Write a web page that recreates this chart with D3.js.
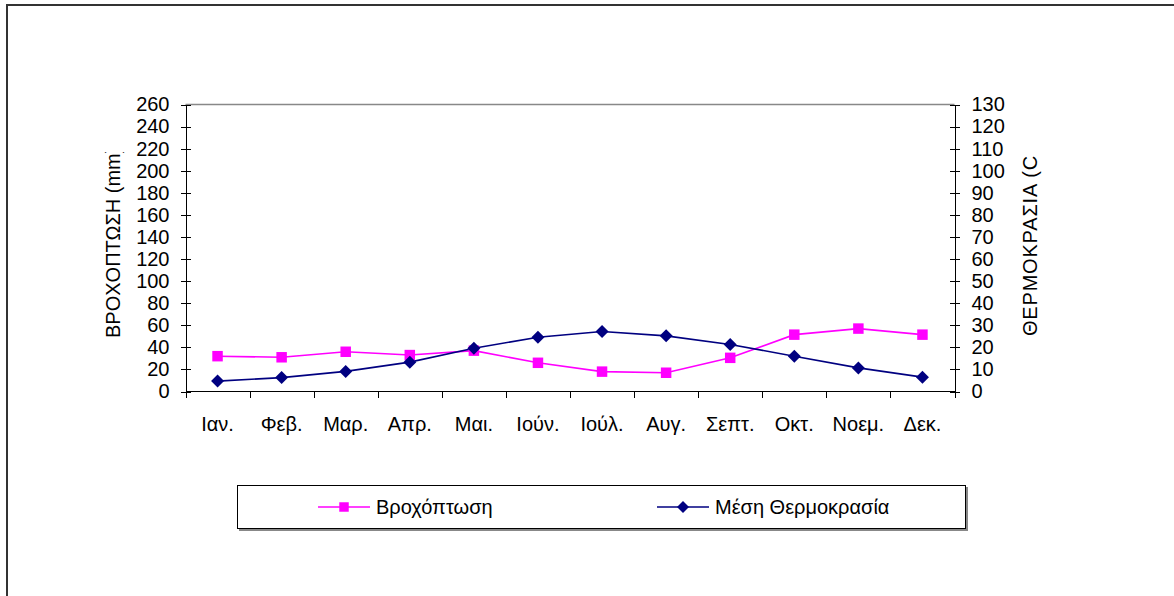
<html lang="el">
<head>
<meta charset="utf-8">
<title>Βροχόπτωση - Θερμοκρασία</title>
<style>
  body { margin: 0; background: white; font-family: "Liberation Sans", Arial, sans-serif; }
  text { font-family: "Liberation Sans", Arial, sans-serif; fill: #000; }
  .axis path, .axis line { stroke: #000; shape-rendering: crispEdges; }
</style>
</head>
<body>
<div id="chart"></div>
<script src="https://d3js.org/d3.v7.min.js"></script>
<script>
// data
var months = ["Ιαν.", "Φεβ.", "Μαρ.", "Απρ.", "Μαι.", "Ιούν.", "Ιούλ.", "Αυγ.", "Σεπτ.", "Οκτ.", "Νοεμ.", "Δεκ."];
var rain = [32, 31, 36, 33, 37, 26, 18, 17, 30.5, 51.5, 57, 51.5];
var temp = [4.7, 6.3, 9.1, 13.3, 19.6, 24.6, 27.2, 25.2, 21.3, 16, 10.7, 6.5];
var leftTicks = d3.range(0, 261, 20);
var rightTicks = d3.range(0, 131, 10);
var seriesNames = ["Βροχόπτωση", "Μέση Θερμοκρασία"];

var width = 1174, height = 596;
var plotL = 185.5, plotR = 954.5, plotT = 104.5, plotB = 391.5;
var fs = "20px";

var svg = d3.select("#chart").append("svg")
  .attr("width", width)
  .attr("height", height);

// outer frame (runs off at right/bottom)
svg.append("rect")
  .attr("x", 7).attr("y", 5)
  .attr("width", 1300).attr("height", 700)
  .attr("fill", "none")
  .attr("stroke", "#333")
  .attr("stroke-width", 2);

var x = d3.scaleBand().domain(months).range([plotL, plotR]);
var xEdge = d3.scaleLinear().domain([0, 12]).range([plotL, plotR]);
var yL = d3.scaleLinear().domain([0, 260]).range([plotB, plotT]);
var yR = d3.scaleLinear().domain([0, 130]).range([plotB, plotT]);

// plot area top border
svg.append("line")
  .attr("x1", plotL).attr("x2", plotR)
  .attr("y1", plotT).attr("y2", plotT)
  .attr("stroke", "#888")
  .attr("stroke-width", 1.5);

// x axis line + ticks at category boundaries
var gx = svg.append("g")
  .attr("class", "axis")
  .attr("transform", "translate(0," + plotB + ")")
  .call(d3.axisBottom(xEdge).tickValues(d3.range(0, 13)).tickSize(6).tickFormat(""));
gx.select(".domain").attr("d", "M" + plotL + ",0H" + plotR);

// x labels
svg.append("g")
  .selectAll("text")
  .data(months)
  .enter().append("text")
  .attr("x", function(d) { return x(d) + x.bandwidth() / 2; })
  .attr("y", 431)
  .attr("text-anchor", "middle")
  .style("font-size", fs)
  .text(function(d) { return d; });

// left axis
var gl = svg.append("g")
  .attr("class", "axis")
  .attr("transform", "translate(" + plotL + ",0)")
  .call(d3.axisLeft(yL).tickValues(leftTicks).tickSize(5).tickPadding(11).tickSizeOuter(0));
gl.selectAll(".tick line").attr("x1", 5).attr("x2", -5);

// right axis
var gr = svg.append("g")
  .attr("class", "axis")
  .attr("transform", "translate(" + plotR + ",0)")
  .call(d3.axisRight(yR).tickValues(rightTicks).tickSize(5).tickPadding(12).tickSizeOuter(0));
gr.selectAll(".tick line").attr("x1", -5).attr("x2", 5);

svg.selectAll(".axis text").style("font-size", fs).style("font-family", "'Liberation Sans', Arial, sans-serif");

// axis titles, cut off at the top like the original
var defs = svg.append("defs");

function axisTitle(id, label, bx, by, cutIndex, cutFrac, cutY) {
  defs.append("clipPath").attr("id", id)
    .append("rect").attr("x", bx - 30).attr("y", cutY).attr("width", 45).attr("height", 300);
  var t = svg.append("g").attr("clip-path", "url(#" + id + ")")
    .append("text")
    .attr("transform", "translate(" + bx + "," + by + ") rotate(-90)")
    .style("font-size", fs)
    .text(label);
  // spread the letters so that the cut falls where it does in the original
  var node = t.node();
  var upto = node.getSubStringLength(0, cutIndex) + cutFrac * node.getSubStringLength(cutIndex, 1);
  var ls = (by - cutY - upto) / (cutIndex + cutFrac);
  t.style("letter-spacing", Math.max(0, ls) + "px");
}

axisTitle("clipL", "ΒΡΟΧΟΠΤΩΣΗ (mm)", 120, 338, 14, 0.3, 152);
axisTitle("clipR", "ΘΕΡΜΟΚΡΑΣΙΑ (C)", 1037, 336, 14, 0, 155);

// lines
var cx = function(d, i) { return x(months[i]) + x.bandwidth() / 2; };

svg.append("path")
  .datum(rain)
  .attr("fill", "none")
  .attr("stroke", "#ff00ff")
  .attr("stroke-width", 1.6)
  .attr("d", d3.line().x(cx).y(function(d) { return yL(d); }));

svg.append("path")
  .datum(temp)
  .attr("fill", "none")
  .attr("stroke", "#000080")
  .attr("stroke-width", 1.6)
  .attr("d", d3.line().x(cx).y(function(d) { return yR(d); }));

var square = d3.symbol().type(d3.symbolSquare).size(110);
var diamond = "M0,-6.5L6.5,0L0,6.5L-6.5,0Z";

svg.selectAll(".sq")
  .data(rain)
  .enter().append("path")
  .attr("class", "sq")
  .attr("d", square)
  .attr("fill", "#ff00ff")
  .attr("transform", function(d, i) { return "translate(" + cx(d, i) + "," + yL(d) + ")"; });

svg.selectAll(".dm")
  .data(temp)
  .enter().append("path")
  .attr("class", "dm")
  .attr("d", diamond)
  .attr("fill", "#000080")
  .attr("transform", function(d, i) { return "translate(" + cx(d, i) + "," + yR(d) + ")"; });

// legend
var lg = svg.append("g");
lg.append("rect")
  .attr("x", 239).attr("y", 487).attr("width", 729).attr("height", 44)
  .attr("fill", "#888");
lg.append("rect")
  .attr("x", 237.5).attr("y", 485.5).attr("width", 728).attr("height", 43)
  .attr("fill", "white").attr("stroke", "#000").attr("stroke-width", 1);

var legendItems = [
  { name: seriesNames[0], color: "#ff00ff", x0: 318, sq: true },
  { name: seriesNames[1], color: "#000080", x0: 657, sq: false }
];
legendItems.forEach(function(it) {
  lg.append("line")
    .attr("x1", it.x0).attr("x2", it.x0 + 52)
    .attr("y1", 507).attr("y2", 507)
    .attr("stroke", it.color).attr("stroke-width", 1.6);
  lg.append("path")
    .attr("d", it.sq ? d3.symbol().type(d3.symbolSquare).size(90)() : "M0,-6L6,0L0,6L-6,0Z")
    .attr("fill", it.color)
    .attr("transform", "translate(" + (it.x0 + 26) + ",507)");
  lg.append("text")
    .attr("x", it.x0 + 58)
    .attr("y", 514)
    .style("font-size", fs)
    .text(it.name);
});
</script>
</body>
</html>
